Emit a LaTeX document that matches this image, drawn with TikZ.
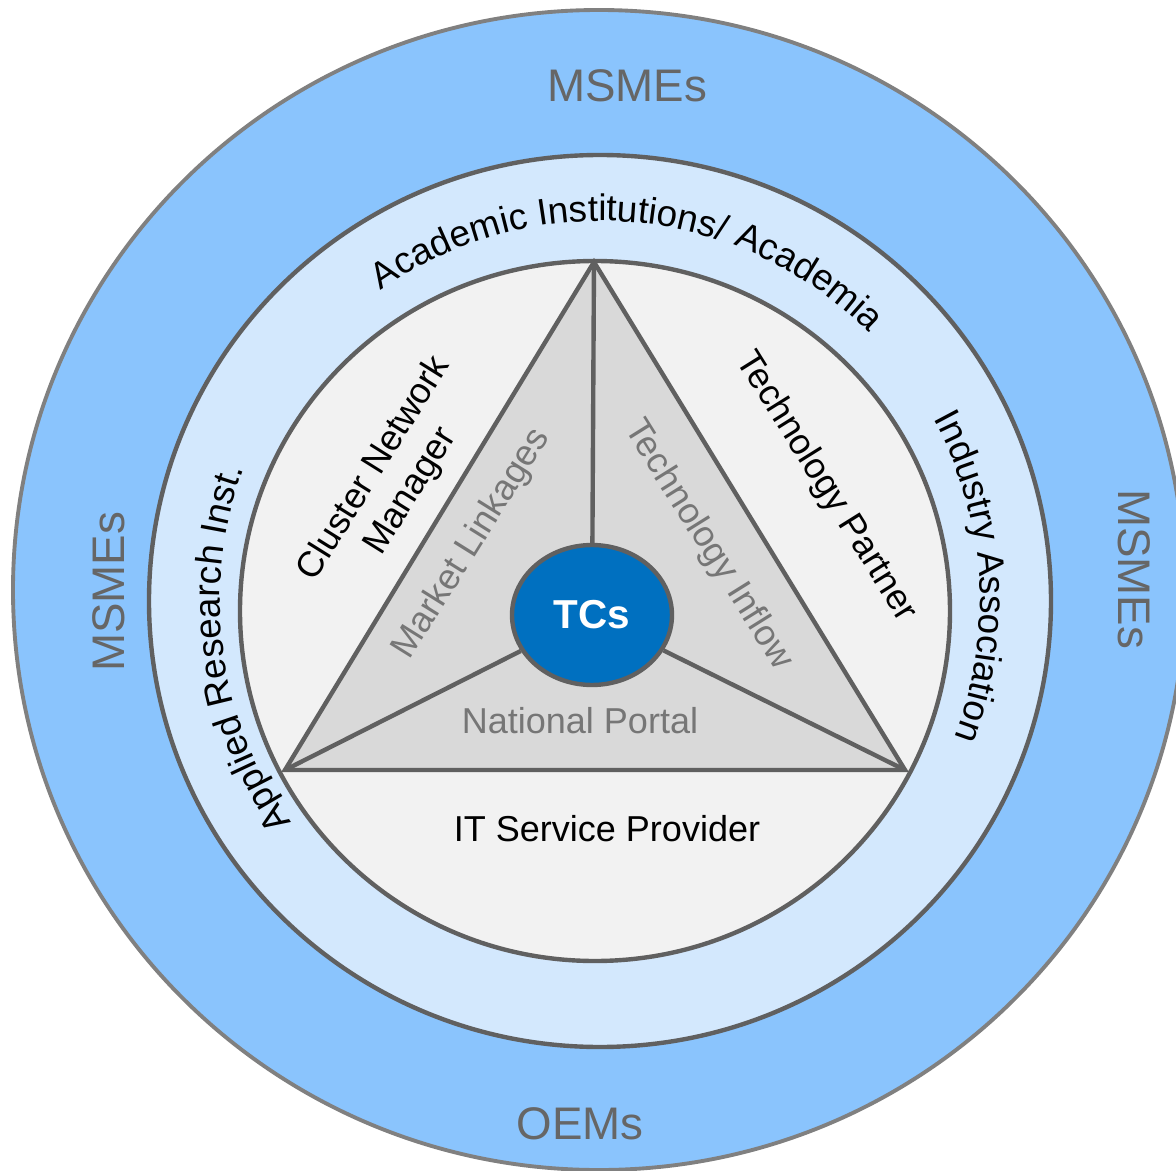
\documentclass[tikz,border=0pt]{standalone}
\usepackage{fontspec}
\setmainfont{Liberation Sans}
\usepackage{tikz}
\usetikzlibrary{shapes.geometric,decorations.text}
\definecolor{ringblue}{HTML}{8AC4FD}
\definecolor{bandblue}{HTML}{D3E8FD}
\definecolor{coregray}{HTML}{F2F2F2}
\definecolor{trigray}{HTML}{D9D9D9}
\definecolor{tcblue}{HTML}{0070C0}
\definecolor{edgegray}{HTML}{606060}
\definecolor{rimgray}{HTML}{808080}
\definecolor{labgray}{HTML}{666666}
\definecolor{linkgray}{HTML}{767676}

\begin{document}
\begin{tikzpicture}[x=0.02cm, y=0.02cm,
    every node/.style={font=\fontsize{20.5}{24.5}\selectfont, inner sep=0pt},
    ring/.style={line width=2.5pt, draw=edgegray},
    outer lab/.style={font=\fontsize{26}{30}\selectfont, text=labgray},
    link lab/.style={text=linkgray},
    arc lab/.style={decorate, decoration={text along path, text align=center, text color=black}}]
            \clip (-600,-569) rectangle (576,601);
            \fill[white] (-600,-569) rectangle (576,601);
            %%%%%%%%%%%%%%% Rings
            \draw[ring, line width=2.2pt, draw=rimgray, fill=ringblue] (-1,11) ellipse [x radius=586, y radius=580];
            \draw[ring, fill=bandblue] (0,0) ellipse [x radius=451, y radius=446];
            \draw[ring, fill=coregray] (-5,-10) ellipse [x radius=355, y radius=350];
            %%%%%%%%%%%%%%% Triangle
            \coordinate (apex) at (-6,339);
            \coordinate (lft) at (-315,-169);
            \coordinate (rgt) at (305,-169);
            \draw[ring, fill=trigray] (apex) -- (lft) -- (rgt) -- cycle;
            %%%%%%%%%%%%%%% Centre and spokes
            \node[ellipse, ring, fill=tcblue, minimum width=3.2cm, minimum height=2.8cm, text=white, font=\bfseries\fontsize{23}{27}\selectfont] (tc) at (-8,-14) {TCs};
            \foreach \c in {apex,lft,rgt} {
                \draw[ring] (tc) -- (\c);
            }
            %%%%%%%%%%%%%%% Outer ring labels
            \node[outer lab, anchor=base] (msmetop) at (27,499) {MSMEs};
            \node[outer lab, anchor=base] (oems) at (-20,-538) {OEMs};
            \node[outer lab, rotate=90] (msmeleft) at (-491,9) {MSMEs};
            \node[outer lab, rotate=-90] (msmeright) at (534,32) {MSMEs};
            %%%%%%%%%%%%%%% Middle ring labels
            \path[arc lab, decoration={text={|\fontsize{21}{25}\selectfont|Academic Institutions/ Academia}}] (145:380) arc [start angle=145, end angle=25, radius=380];
            \path[arc lab, decoration={text={|\fontsize{21}{25}\selectfont|Applied Research Inst.}}] (237.7:380) arc [start angle=237.7, end angle=137.7, radius=380];
            \path[arc lab, decoration={text={|\fontsize{21}{25}\selectfont|Industry Association}}] (53.8:380) arc [start angle=53.8, end angle=-46.2, radius=380];
            %%%%%%%%%%%%%%% Inner disc labels
            \node[rotate=58, align=center] (cnm) at (-207,121) {Cluster Network\\Manager};
            \node[rotate=-58] (tpartner) at (226,114) {Technology Partner};
            \node[anchor=base] (itsp) at (7,-240) {IT Service Provider};
            %%%%%%%%%%%%%%% Triangle labels
            \node[link lab, rotate=58] (mlink) at (-128,57) {Market Linkages};
            \node[link lab, rotate=-58] (tinflow) at (108,56) {Technology Inflow};
            \node[link lab, anchor=base] (portal) at (-20,-132) {National Portal};
        \end{tikzpicture}
\end{document}
